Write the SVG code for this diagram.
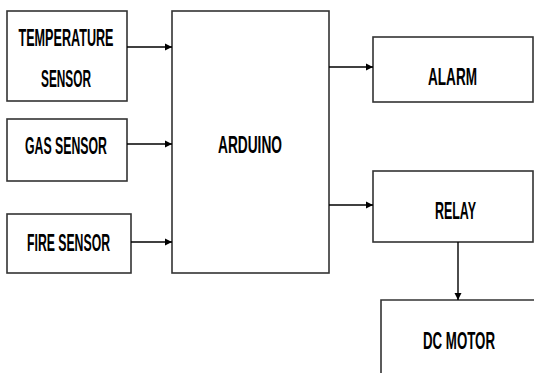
<svg xmlns="http://www.w3.org/2000/svg" width="534" height="373" viewBox="0 0 534 373">
<defs>
<marker id="ah" markerWidth="8" markerHeight="8" refX="7" refY="4" orient="auto" markerUnits="userSpaceOnUse">
<path d="M0,0.5 L7,4 L0,7.5 Z" fill="#000"/>
</marker>
<style>
.box{fill:#fff;stroke:#333;stroke-width:1.6}
.lbl{font-family:"Liberation Sans Narrow","Liberation Sans",Arial,sans-serif;font-weight:bold;font-size:23px;fill:#000;text-anchor:middle}
.con{stroke:#000;stroke-width:1.4;fill:none}
</style>
</defs>
<rect width="534" height="373" fill="#fff"/>
<g id="temp">
<rect class="box" x="7" y="11" width="120" height="90"/>
<text class="lbl" x="66" y="46" textLength="95" lengthAdjust="spacingAndGlyphs">TEMPERATURE</text>
<text class="lbl" x="66" y="87" textLength="50" lengthAdjust="spacingAndGlyphs">SENSOR</text>
</g>
<g id="gas">
<rect class="box" x="7" y="119" width="120" height="62"/>
<text class="lbl" x="66" y="154" textLength="82" lengthAdjust="spacingAndGlyphs">GAS SENSOR</text>
</g>
<g id="fire">
<rect class="box" x="7" y="214" width="124" height="59"/>
<text class="lbl" x="68.5" y="251" textLength="83" lengthAdjust="spacingAndGlyphs">FIRE SENSOR</text>
</g>
<g id="arduino">
<rect class="box" x="172" y="11" width="157" height="262"/>
<text class="lbl" x="250" y="153" textLength="64" lengthAdjust="spacingAndGlyphs">ARDUINO</text>
</g>
<g id="alarm">
<rect class="box" x="373" y="37" width="160" height="65"/>
<text class="lbl" x="452.5" y="85" textLength="49" lengthAdjust="spacingAndGlyphs">ALARM</text>
</g>
<g id="relay">
<rect class="box" x="373" y="171" width="160" height="71"/>
<text class="lbl" x="455.5" y="219" textLength="41" lengthAdjust="spacingAndGlyphs">RELAY</text>
</g>
<g id="dcmotor">
<path class="box" d="M381,373 L381,300 L534,300" fill="none"/>
<text class="lbl" x="459" y="349" textLength="72" lengthAdjust="spacingAndGlyphs">DC MOTOR</text>
</g>
<g id="connectors">
<line class="con" x1="127" y1="47" x2="172" y2="47" marker-end="url(#ah)"/>
<line class="con" x1="127" y1="144" x2="172" y2="144" marker-end="url(#ah)"/>
<line class="con" x1="131" y1="242" x2="172" y2="242" marker-end="url(#ah)"/>
<line class="con" x1="329" y1="67" x2="373" y2="67" marker-end="url(#ah)"/>
<line class="con" x1="329" y1="205" x2="373" y2="205" marker-end="url(#ah)"/>
<line class="con" x1="458" y1="242" x2="458" y2="300" marker-end="url(#ah)"/>
</g>
</svg>
